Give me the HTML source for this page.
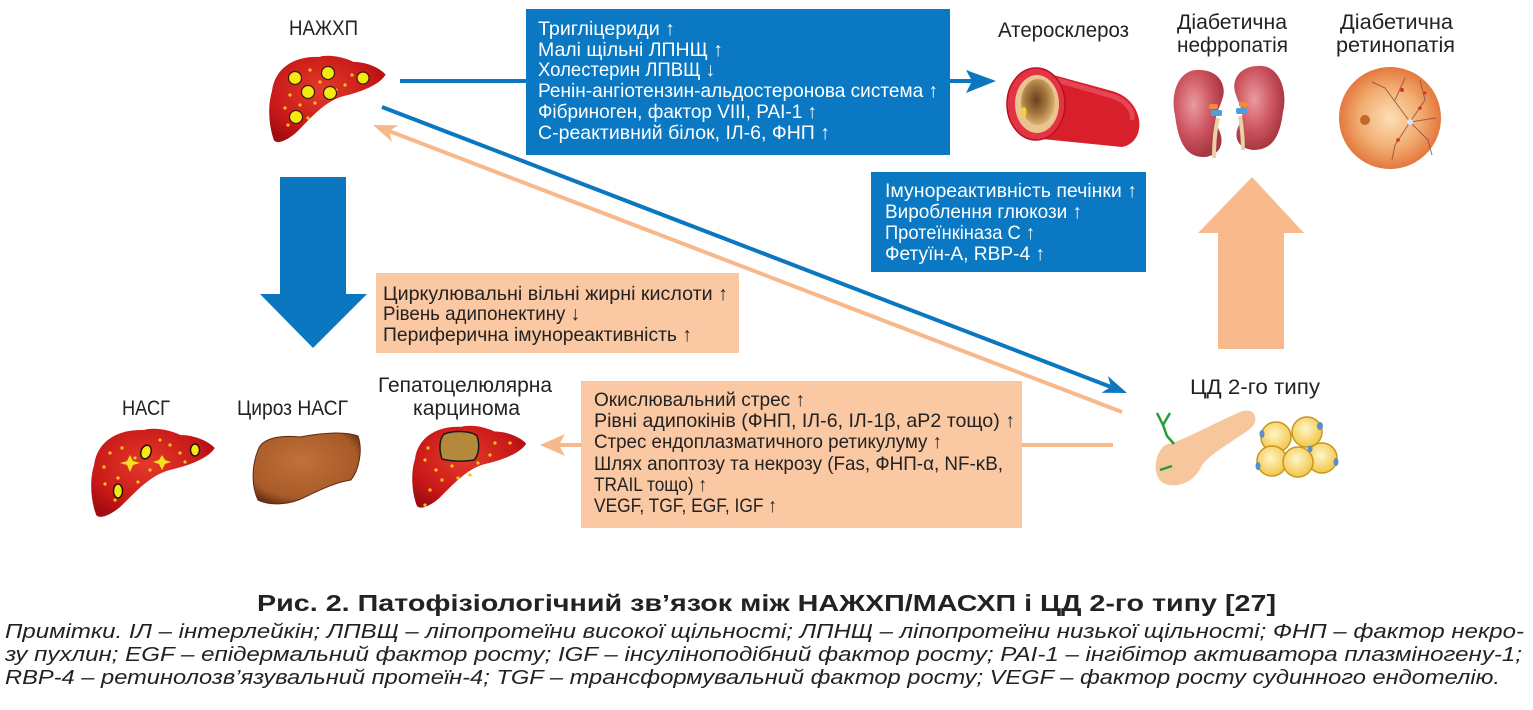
<!DOCTYPE html>
<html><head><meta charset="utf-8"><style>
html,body{margin:0;padding:0;background:#fff;width:1533px;height:710px;overflow:hidden}
svg{display:block}
text{font-family:"Liberation Sans","DejaVu Sans",sans-serif}
.lbl{font-size:21px;fill:#222}
.bw{font-size:19.5px;fill:#fff}
.bo{font-size:19.5px;fill:#222}
</style></head><body>
<svg width="1533" height="710" viewBox="0 0 1533 710" xmlns="http://www.w3.org/2000/svg">
<defs>
<radialGradient id="lv" cx="45%" cy="40%" r="65%"><stop offset="0" stop-color="#e43a2a"/><stop offset="0.7" stop-color="#c81818"/><stop offset="1" stop-color="#a00c10"/></radialGradient>
<radialGradient id="cz" cx="45%" cy="40%" r="65%"><stop offset="0" stop-color="#c0723a"/><stop offset="0.8" stop-color="#a85a28"/><stop offset="1" stop-color="#6a3212"/></radialGradient>
<radialGradient id="ret" cx="50%" cy="50%" r="50%"><stop offset="0" stop-color="#fbe0b4"/><stop offset="0.6" stop-color="#f2ad70"/><stop offset="1" stop-color="#e3783e"/></radialGradient>
<radialGradient id="kid" cx="40%" cy="40%" r="60%"><stop offset="0" stop-color="#ea9aa0"/><stop offset="0.6" stop-color="#cc5560"/><stop offset="1" stop-color="#a83840"/></radialGradient>
<radialGradient id="fat" cx="45%" cy="40%" r="60%"><stop offset="0" stop-color="#fff6c8"/><stop offset="1" stop-color="#f2c64a"/></radialGradient>
<radialGradient id="lum" cx="45%" cy="45%" r="55%"><stop offset="0" stop-color="#6b4020"/><stop offset="0.6" stop-color="#a87a40"/><stop offset="1" stop-color="#d8b070"/></radialGradient>
<path id="liver" d="M 2 37 C 5 13, 25 1, 50 2 C 60 -1, 75 2, 85 7 C 98 7, 112 13, 118 20 C 112 30, 95 37, 75 42 C 56 47, 42 64, 27 79 C 19 86, 8 92, 4 87 C -2 70, -2 50, 2 37 Z"/>
</defs>

<!-- connectors -->
<line x1="400" y1="81" x2="972" y2="81" stroke="#0a77c0" stroke-width="4"/>
<polygon points="996,81 966,70 972,81 966,93" fill="#0a77c0"/>
<line x1="382" y1="107" x2="1111" y2="387" stroke="#0a77c0" stroke-width="4"/>
<polygon points="1127,393 1101.4,392.8 1111.1,386.9 1107.8,376" fill="#0a77c0"/>
<line x1="1122" y1="412" x2="389" y2="131" stroke="#f7b98b" stroke-width="4"/>
<polygon points="373,125 398.6,125.2 388.9,131.1 392.2,142" fill="#f7b98b"/>
<line x1="1113" y1="445" x2="559" y2="445" stroke="#f7b98b" stroke-width="4"/>
<polygon points="540,445 565,434 559,445 565,456" fill="#f7b98b"/>

<!-- big arrows -->
<polygon points="280,177 346,177 346,294 367,294 313,348 260,294 280,294" fill="#0a77c0"/>
<polygon points="1218,349 1284,349 1284,233 1304,233 1252,177 1198,233 1218,233" fill="#f8ba8c"/>

<!-- top blue box -->
<rect x="526" y="9" width="424" height="146" fill="#0a78c2"/>
<text class="bw" x="538" y="35" textLength="137" lengthAdjust="spacingAndGlyphs">Тригліцериди ↑</text>
<text class="bw" x="538" y="56" textLength="185" lengthAdjust="spacingAndGlyphs">Малі щільні ЛПНЩ ↑</text>
<text class="bw" x="538" y="76" textLength="177" lengthAdjust="spacingAndGlyphs">Холестерин ЛПВЩ ↓</text>
<text class="bw" x="538" y="97" textLength="400" lengthAdjust="spacingAndGlyphs">Ренін-ангіотензин-альдостеронова система ↑</text>
<text class="bw" x="538" y="118" textLength="279" lengthAdjust="spacingAndGlyphs">Фібриноген, фактор VIII, PAI-1 ↑</text>
<text class="bw" x="538" y="139" textLength="292" lengthAdjust="spacingAndGlyphs">С-реактивний білок, ІЛ-6, ФНП ↑</text>

<!-- middle blue box -->
<rect x="871" y="172" width="275" height="100" fill="#0a78c2"/>
<text class="bw" x="885" y="197" textLength="252" lengthAdjust="spacingAndGlyphs">Імунореактивність печінки ↑</text>
<text class="bw" x="885" y="218" textLength="197" lengthAdjust="spacingAndGlyphs">Вироблення глюкози ↑</text>
<text class="bw" x="885" y="239" textLength="150" lengthAdjust="spacingAndGlyphs">Протеїнкіназа С ↑</text>
<text class="bw" x="885" y="260" textLength="160" lengthAdjust="spacingAndGlyphs">Фетуїн-А, RBP-4 ↑</text>

<!-- orange box 1 -->
<rect x="376" y="273" width="363" height="80" fill="#fac8a2"/>
<text class="bo" x="383" y="300" textLength="345" lengthAdjust="spacingAndGlyphs">Циркулювальні вільні жирні кислоти ↑</text>
<text class="bo" x="383" y="320" textLength="197" lengthAdjust="spacingAndGlyphs">Рівень адипонектину ↓</text>
<text class="bo" x="383" y="341" textLength="309" lengthAdjust="spacingAndGlyphs">Периферична імунореактивність ↑</text>

<!-- orange box 2 -->
<rect x="581" y="381" width="441" height="147" fill="#fac8a2"/>
<text class="bo" x="594" y="406" textLength="211" lengthAdjust="spacingAndGlyphs">Окислювальний стрес ↑</text>
<text class="bo" x="594" y="427" textLength="421" lengthAdjust="spacingAndGlyphs">Рівні адипокінів (ФНП, ІЛ-6, ІЛ-1β, aP2 тощо) ↑</text>
<text class="bo" x="594" y="448" textLength="348" lengthAdjust="spacingAndGlyphs">Стрес ендоплазматичного ретикулуму ↑</text>
<text class="bo" x="594" y="470" textLength="409" lengthAdjust="spacingAndGlyphs">Шлях апоптозу та некрозу (Fas, ФНП-α, NF-κB,</text>
<text class="bo" x="594" y="491" textLength="113" lengthAdjust="spacingAndGlyphs">TRAIL тощо) ↑</text>
<text class="bo" x="594" y="512" textLength="183" lengthAdjust="spacingAndGlyphs">VEGF, TGF, EGF, IGF ↑</text>

<!-- labels -->
<text class="lbl" x="289" y="35" textLength="69" lengthAdjust="spacingAndGlyphs">НАЖХП</text>
<text class="lbl" x="998" y="37" textLength="131" lengthAdjust="spacingAndGlyphs">Атеросклероз</text>
<text class="lbl" x="1177" y="29" textLength="110" lengthAdjust="spacingAndGlyphs">Діабетична</text>
<text class="lbl" x="1177" y="52" textLength="111" lengthAdjust="spacingAndGlyphs">нефропатія</text>
<text class="lbl" x="1340" y="29" textLength="113" lengthAdjust="spacingAndGlyphs">Діабетична</text>
<text class="lbl" x="1336" y="52" textLength="119" lengthAdjust="spacingAndGlyphs">ретинопатія</text>
<text class="lbl" x="122" y="415" textLength="48" lengthAdjust="spacingAndGlyphs">НАСГ</text>
<text class="lbl" x="237" y="415" textLength="111" lengthAdjust="spacingAndGlyphs">Цироз НАСГ</text>
<text class="lbl" x="378" y="392" textLength="174" lengthAdjust="spacingAndGlyphs">Гепатоцелюлярна</text>
<text class="lbl" x="413" y="415" textLength="107" lengthAdjust="spacingAndGlyphs">карцинома</text>
<text class="lbl" x="1190" y="394" textLength="130" lengthAdjust="spacingAndGlyphs">ЦД 2-го типу</text>

<!-- top liver -->
<g transform="translate(270,55) scale(0.98,0.98)"><use href="#liver" fill="url(#lv)"/></g>
<g fill="#f6c21c">
<circle cx="290" cy="95" r="1.6"/><circle cx="310" cy="70" r="1.6"/><circle cx="320" cy="82" r="1.6"/><circle cx="345" cy="85" r="1.6"/><circle cx="352" cy="75" r="1.6"/><circle cx="300" cy="105" r="1.6"/><circle cx="315" cy="103" r="1.6"/><circle cx="285" cy="108" r="1.6"/><circle cx="308" cy="118" r="1.6"/><circle cx="288" cy="125" r="1.6"/><circle cx="336" cy="90" r="1.6"/>
</g>
<g fill="#f5ea10" stroke="#3a1a10" stroke-width="1.2">
<circle cx="295" cy="78" r="6.5"/><circle cx="328" cy="73" r="6.5"/><circle cx="308" cy="92" r="6.5"/><circle cx="330" cy="93" r="6.5"/><circle cx="363" cy="78" r="6"/><circle cx="296" cy="117" r="6.5"/>
</g>

<!-- NASH liver -->
<g transform="translate(92,428) scale(1.04,1.0)"><use href="#liver" fill="url(#lv)"/></g>
<g fill="#f6c21c">
<circle cx="110" cy="453" r="1.6"/><circle cx="122" cy="448" r="1.6"/><circle cx="135" cy="458" r="1.6"/><circle cx="150" cy="470" r="1.6"/><circle cx="170" cy="445" r="1.6"/><circle cx="180" cy="453" r="1.6"/><circle cx="185" cy="462" r="1.6"/><circle cx="104" cy="467" r="1.6"/><circle cx="118" cy="478" r="1.6"/><circle cx="138" cy="482" r="1.6"/><circle cx="105" cy="484" r="1.6"/><circle cx="115" cy="500" r="1.6"/><circle cx="160" cy="440" r="1.6"/>
</g>
<g fill="#f5ea10" stroke="#2a1208" stroke-width="1.5">
<ellipse cx="146" cy="452" rx="5" ry="7" transform="rotate(20 146 452)"/><ellipse cx="195" cy="450" rx="4.5" ry="6"/><ellipse cx="118" cy="491" rx="4.5" ry="7"/>
</g>
<g fill="#f5e020">
<polygon points="130,455 133,461 140,463 133,465 130,472 127,465 120,463 127,461"/>
<polygon points="162,455 165,460 171,462 165,464 162,470 159,464 153,462 159,460"/>
</g>

<!-- cirrhosis liver -->
<path d="M 258 450 C 262 438, 280 435, 300 437 C 320 433, 345 431, 358 436 C 363 450, 359 470, 351 480 C 336 482, 320 490, 305 497 C 290 505, 270 506, 258 500 C 251 485, 252 465, 258 450 Z" fill="url(#cz)" stroke="#5a2a10" stroke-width="1"/>

<!-- HCC liver -->
<g transform="translate(413,425) scale(0.96,0.93)"><use href="#liver" fill="url(#lv)"/></g>
<g fill="#f6c21c">
<circle cx="428" cy="448" r="1.6"/><circle cx="425" cy="460" r="1.6"/><circle cx="436" cy="470" r="1.6"/><circle cx="452" cy="466" r="1.6"/><circle cx="458" cy="478" r="1.6"/><circle cx="478" cy="463" r="1.6"/><circle cx="490" cy="455" r="1.6"/><circle cx="495" cy="443" r="1.6"/><circle cx="510" cy="443" r="1.6"/><circle cx="442" cy="480" r="1.6"/><circle cx="430" cy="490" r="1.6"/><circle cx="425" cy="505" r="1.6"/><circle cx="470" cy="475" r="1.6"/>
</g>
<path d="M 444 434 C 455 430, 472 431, 477 436 C 480 445, 479 455, 474 460 C 462 462, 450 461, 442 459 C 439 450, 439 440, 444 434 Z" fill="#b38a3c" stroke="#1a1a1a" stroke-width="1.5"/>

<!-- artery -->
<path d="M 1035 70 L 1112 91 C 1145 100, 1148 142, 1122 147 L 1032 138 Z" fill="#d8202c"/>
<path d="M 1050 78 L 1112 96 C 1128 101, 1134 112, 1132 120" fill="none" stroke="#f06070" stroke-width="5" opacity="0.6"/>
<ellipse cx="1036" cy="104" rx="29" ry="36" fill="#e23444" stroke="#b81020" stroke-width="1.5"/>
<ellipse cx="1037" cy="104" rx="22" ry="29" fill="#e9c48e"/>
<ellipse cx="1038" cy="102" rx="17" ry="23" fill="url(#lum)"/>
<ellipse cx="1024" cy="112" rx="2.5" ry="5" fill="#f4d040"/>

<!-- kidneys -->
<path d="M 1200 70 C 1178 68, 1170 95, 1175 115 C 1178 140, 1185 158, 1205 157 C 1222 155, 1225 140, 1218 128 C 1212 118, 1220 108, 1222 100 C 1228 85, 1218 70, 1200 70 Z" fill="url(#kid)"/>
<path d="M 1258 66 C 1280 64, 1288 92, 1283 112 C 1280 137, 1272 150, 1253 150 C 1236 148, 1233 135, 1240 123 C 1246 113, 1238 103, 1236 95 C 1230 80, 1240 66, 1258 66 Z" fill="url(#kid)"/>
<path d="M 1218 118 C 1215 130, 1214 145, 1214 158" stroke="#e8d0a8" stroke-width="4" fill="none"/>
<path d="M 1240 116 C 1242 128, 1243 140, 1243 150" stroke="#e8d0a8" stroke-width="4" fill="none"/>
<rect x="1211" y="110" width="11" height="6" rx="2" fill="#4aa0d8"/>
<rect x="1236" y="108" width="11" height="6" rx="2" fill="#4aa0d8"/>
<rect x="1209" y="104" width="9" height="5" rx="2" fill="#f08a40"/>
<rect x="1239" y="102" width="9" height="5" rx="2" fill="#f08a40"/>

<!-- retina -->
<circle cx="1390" cy="118" r="51" fill="url(#ret)"/>
<g stroke="#8a4a3a" stroke-width="1" fill="none" opacity="0.8">
<path d="M 1410 122 L 1385 88 L 1372 82"/><path d="M 1410 122 L 1425 100 L 1420 80"/><path d="M 1410 122 L 1395 145 L 1392 160"/><path d="M 1410 122 L 1428 140 L 1432 155"/><path d="M 1410 122 L 1436 118"/><path d="M 1395 100 L 1405 78"/>
</g>
<circle cx="1410" cy="122" r="3" fill="#dde4f0"/>
<circle cx="1365" cy="120" r="5" fill="#c06a2a"/>
<g fill="#e02a2a"><circle cx="1402" cy="90" r="2"/><circle cx="1420" cy="108" r="1.8"/><circle cx="1398" cy="140" r="1.8"/><circle cx="1425" cy="93" r="1.5"/></g>

<!-- pancreas -->
<path d="M 1165 445 C 1185 440, 1210 425, 1240 412 C 1255 406, 1260 420, 1251 428 C 1236 440, 1212 452, 1202 465 C 1196 480, 1180 489, 1165 484 C 1152 478, 1153 455, 1165 445 Z" fill="#f6c69c"/>
<g stroke="#2a9a3a" stroke-width="2.5" fill="none">
<path d="M 1157 413 L 1163 425 L 1167 436 L 1174 444"/><path d="M 1163 425 L 1170 413"/><path d="M 1160 470 L 1172 466"/>
</g>

<!-- fat cells -->
<g fill="url(#fat)" stroke="#c8961c" stroke-width="1.5">
<circle cx="1276" cy="437" r="15"/><circle cx="1307" cy="432" r="15"/><circle cx="1322" cy="458" r="15"/><circle cx="1272" cy="461" r="15"/><circle cx="1298" cy="462" r="15"/>
</g>
<g fill="#5a8ec4">
<ellipse cx="1262" cy="434" rx="2.5" ry="4"/><ellipse cx="1320" cy="426" rx="3" ry="4"/><ellipse cx="1336" cy="462" rx="2.5" ry="4"/><ellipse cx="1258" cy="466" rx="2.5" ry="4"/><ellipse cx="1310" cy="449" rx="2.5" ry="3.5"/>
</g>

<!-- caption -->
<text x="257" y="611" font-size="23" font-weight="bold" fill="#222" textLength="1019" lengthAdjust="spacingAndGlyphs">Рис. 2. Патофізіологічний зв’язок між НАЖХП/МАСХП і ЦД 2-го типу [27]</text>
<g font-size="20.5" font-style="italic" fill="#222">
<text x="5" y="638" textLength="1519" lengthAdjust="spacingAndGlyphs">Примітки. ІЛ – інтерлейкін; ЛПВЩ – ліпопротеїни високої щільності; ЛПНЩ – ліпопротеїни низької щільності; ФНП – фактор некро-</text>
<text x="5" y="661" textLength="1517" lengthAdjust="spacingAndGlyphs">зу пухлин; EGF – епідермальний фактор росту; IGF – інсуліноподібний фактор росту; PAI-1 – інгібітор активатора плазміногену-1;</text>
<text x="5" y="684" textLength="1495" lengthAdjust="spacingAndGlyphs">RBP-4 – ретинолозв’язувальний протеїн-4; TGF – трансформувальний фактор росту; VEGF – фактор росту судинного ендотелію.</text>
</g>
</svg>
</body></html>
